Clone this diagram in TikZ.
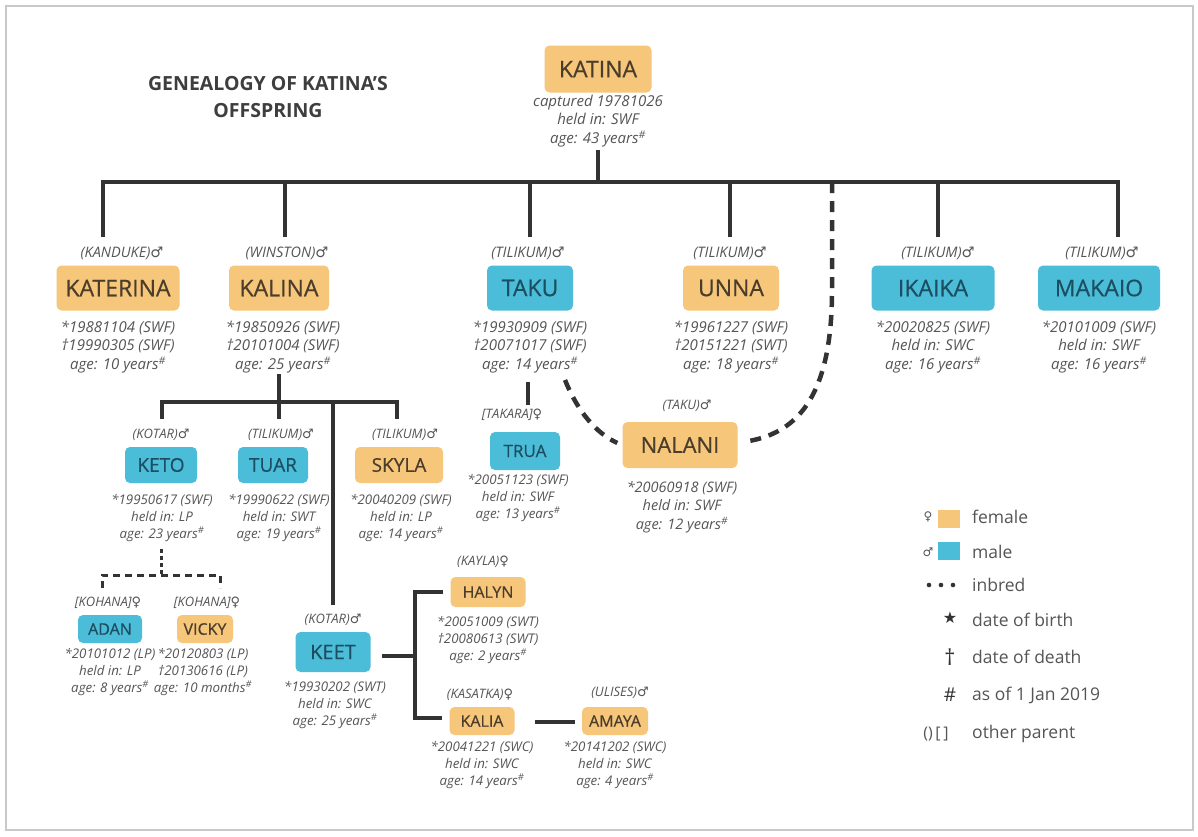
\documentclass[tikz,border=0pt]{standalone}
\usepackage{fontspec}
\setmainfont{Open Sans}
\newfontfamily\namefont[FakeBold=0.5]{Open Sans}
\newfontfamily\symfont{DejaVu Sans}
\usetikzlibrary{calc}

\definecolor{femfill}{HTML}{F6C67A}
\definecolor{malfill}{HTML}{4CBDD8}
\definecolor{femtext}{HTML}{4A3D2B}
\definecolor{maltext}{HTML}{1C4E61}
\definecolor{infotext}{HTML}{555555}
\definecolor{linecol}{HTML}{333333}
\definecolor{titletext}{HTML}{3E3E3E}
\definecolor{cardline}{HTML}{C9C9C9}

\newcommand\msym{{\symfont ♂}}
\newcommand\fsym{{\symfont ♀}}
\newcommand\hs{\textsuperscript{\#}}

\begin{document}
\begin{tikzpicture}[x=1pt,y=-1pt,
  box/.style={rounded corners=5pt, inner sep=0pt, minimum height=45pt},
  fem/.style={box, fill=femfill, text=femtext},
  mal/.style={box, fill=malfill, text=maltext},
  bigname/.style={font=\namefont\fontsize{23}{26}\selectfont},
  midname/.style={font=\namefont\fontsize{19}{22}\selectfont},
  smallname/.style={font=\namefont\fontsize{16}{18}\selectfont},
  info/.style={align=center, inner sep=0pt, text=infotext, font=\itshape\fontsize{15}{18.5}\selectfont},
  sinfo/.style={align=center, inner sep=0pt, text=infotext, font=\itshape\fontsize{13.3}{16.8}\selectfont},
  par/.style={inner sep=0pt, text=infotext, font=\itshape\fontsize{14.5}{16}\selectfont},
  spar/.style={inner sep=0pt, text=infotext, font=\itshape\fontsize{13}{14}\selectfont},
  link/.style={draw=linecol, line width=4pt, line join=miter},
  inbred/.style={draw=linecol, line width=4.5pt, dash pattern=on 11pt off 8pt},
  kin/.style={draw=linecol, line width=3pt, dash pattern=on 7pt off 5pt},
  legend/.style={inner sep=0pt, anchor=west, text=infotext, font=\fontsize{17.5}{20}\selectfont}
]
\useasboundingbox (0,0) rectangle (1198,836);
\fill[white] (0,0) rectangle (1198,836);
\draw[cardline, line width=1.5pt] (6,6) rectangle (1193,830);

% title
\node[align=center, inner sep=0pt, text=titletext,
      font=\bfseries\fontsize{19.5}{27}\selectfont] (title) at (268,97)
  {GENEALOGY OF KATINA'S\\OFFSPRING};

% founder
\node[fem, bigname, minimum width=107pt, minimum height=47pt] (katina) at (598,69) {KATINA};
\node[info] (katina-i) at (598,121) {captured 19781026\\held in: SWF\\age: 43 years\hs};

% first generation
\node[par] (katerina-p) at (122,253) {(KANDUKE)\msym};
\node[fem, bigname, minimum width=123pt] (katerina) at (118,288) {KATERINA};
\node[info] (katerina-i) at (118,347) {*19881104 (SWF)\\†19990305 (SWF)\\age: 10 years\hs};

\node[par] (kalina-p) at (287,253) {(WINSTON)\msym};
\node[fem, bigname, minimum width=100pt] (kalina) at (279,288) {KALINA};
\node[info] (kalina-i) at (283,347) {*19850926 (SWF)\\†20101004 (SWF)\\age: 25 years\hs};

\node[par] (taku-p) at (528,253) {(TILIKUM)\msym};
\node[mal, bigname, minimum width=86pt] (taku) at (530,288) {TAKU};
\node[info] (taku-i) at (530,347) {*19930909 (SWF)\\†20071017 (SWF)\\age: 14 years\hs};

\node[par] (unna-p) at (730,253) {(TILIKUM)\msym};
\node[fem, bigname, minimum width=96pt] (unna) at (731,288) {UNNA};
\node[info] (unna-i) at (731,347) {*19961227 (SWF)\\†20151221 (SWT)\\age: 18 years\hs};

\node[par] (ikaika-p) at (938,253) {(TILIKUM)\msym};
\node[mal, bigname, minimum width=123pt] (ikaika) at (933,288) {IKAIKA};
\node[info] (ikaika-i) at (933,347) {*20020825 (SWF)\\held in: SWC\\age: 16 years\hs};

\node[par] (makaio-p) at (1102,253) {(TILIKUM)\msym};
\node[mal, bigname, minimum width=122pt] (makaio) at (1099,288) {MAKAIO};
\node[info] (makaio-i) at (1099,347) {*20101009 (SWF)\\held in: SWF\\age: 16 years\hs};

% Kalina's offspring
\node[spar] (keto-p) at (161,435) {(KOTAR)\msym};
\node[mal, midname, minimum width=72pt, minimum height=36pt] (keto) at (161,465) {KETO};
\node[sinfo] (keto-i) at (162,518) {*19950617 (SWF)\\held in: LP\\age: 23 years\hs};

\node[spar] (tuar-p) at (281,435) {(TILIKUM)\msym};
\node[mal, midname, minimum width=70pt, minimum height=36pt] (tuar) at (273,465) {TUAR};
\node[sinfo] (tuar-i) at (279,518) {*19990622 (SWF)\\held in: SWT\\age: 19 years\hs};

\node[spar] (skyla-p) at (405,435) {(TILIKUM)\msym};
\node[fem, midname, minimum width=88pt, minimum height=36pt] (skyla) at (399,465) {SKYLA};
\node[sinfo] (skyla-i) at (401,518) {*20040209 (SWF)\\held in: LP\\age: 14 years\hs};

\node[spar] (keet-p) at (333,620) {(KOTAR)\msym};
\node[mal, font=\namefont\fontsize{20}{22}\selectfont, minimum width=75pt, minimum height=40pt] (keet) at (333,652) {KEET};
\node[sinfo] (keet-i) at (335,705) {*19930202 (SWT)\\held in: SWC\\age: 25 years\hs};

% Taku's offspring
\node[spar] (trua-p) at (512,415) {[TAKARA]\fsym};
\node[mal, font=\namefont\fontsize{17}{20}\selectfont, minimum width=70pt, minimum height=38pt] (trua) at (525,451) {TRUA};
\node[sinfo] (trua-i) at (518,498) {*20051123 (SWF)\\held in: SWF\\age: 13 years\hs};

\node[spar] (nalani-p) at (687,406) {(TAKU)\msym};
\node[fem, font=\namefont\fontsize{22}{25}\selectfont, minimum width=115pt, minimum height=46pt] (nalani) at (680,445) {NALANI};
\node[info, font=\itshape\fontsize{14.5}{18.5}\selectfont] (nalani-i) at (682,507) {*20060918 (SWF)\\held in: SWF\\age: 12 years\hs};

% Keto's offspring
\node[spar] (adan-p) at (108,603) {[KOHANA]\fsym};
\node[mal, smallname, minimum width=64pt, minimum height=28pt] (adan) at (110,629) {ADAN};
\node[sinfo] (adan-i) at (110,672) {*20101012 (LP)\\held in: LP\\age: 8 years\hs};

\node[spar] (vicky-p) at (207,603) {[KOHANA]\fsym};
\node[fem, smallname, minimum width=56pt, minimum height=28pt] (vicky) at (205,629) {VICKY};
\node[sinfo] (vicky-i) at (203,672) {*20120803 (LP)\\†20130616 (LP)\\age: 10 months\hs};

% Keet's offspring
\node[spar] (halyn-p) at (483,562) {(KAYLA)\fsym};
\node[fem, smallname, minimum width=75pt, minimum height=30pt] (halyn) at (488,592) {HALYN};
\node[sinfo] (halyn-i) at (488,640) {*20051009 (SWT)\\†20080613 (SWT)\\age: 2 years\hs};

\node[spar] (kalia-p) at (480,695) {(KASATKA)\fsym};
\node[fem, smallname, minimum width=65pt, minimum height=28pt] (kalia) at (482,721) {KALIA};
\node[sinfo] (kalia-i) at (482,765) {*20041221 (SWC)\\held in: SWC\\age: 14 years\hs};

\node[spar] (amaya-p) at (620,693) {(ULISES)\msym};
\node[fem, smallname, minimum width=66pt, minimum height=28pt] (amaya) at (615,721) {AMAYA};
\node[sinfo] (amaya-i) at (615,765) {*20141202 (SWC)\\held in: SWC\\age: 4 years\hs};

% ---- connectors ----
\coordinate (root-a) at (598,150);
\coordinate (root-b) at (598,182);
\draw[link] (root-a) -- (root-b);
\coordinate (g1-l) at (103,182); \coordinate (g1-r) at (1118,182);
\draw[link] ($(g1-l)+(0,55)$) -- (g1-l) -- (g1-r) -- ($(g1-r)+(0,55)$);
\foreach \n/\x in {kalina/285, taku/530, unna/730, ikaika/938}{
  \coordinate (\n-top) at (\x,182);
  \coordinate (\n-end) at (\x,237);
  \draw[link] (\n-top) -- (\n-end);
}

% Kalina's branch
\coordinate (k2-l) at (162,402); \coordinate (k2-r) at (397,402);
\draw[link] ($(k2-l)+(0,17)$) -- (k2-l) -- (k2-r) -- ($(k2-r)+(0,17)$);
\coordinate (kalina-dn) at (279,374); \coordinate (tuar-up) at (279,419);
\draw[link] (kalina-dn) -- (tuar-up);
\coordinate (keet-br) at (333,402); \coordinate (keet-up) at (333,605);
\draw[link] (keet-br) -- (keet-up);

% Taku to Trua
\coordinate (taku-dn) at (528,382); \coordinate (trua-up) at (528,405);
\draw[link] (taku-dn) -- (trua-up);

% inbreeding line to Nalani
\coordinate (inb-top) at (832,182);
\coordinate (inb-s) at (565,380);
\draw[inbred] (inb-top) -- (832,290) .. controls (832,400) and (795,435) .. ($(nalani.east)+(5,-3)$);
\draw[inbred] (inb-s) .. controls (578,412) and (596,433) .. ($(nalani.west)+(-5,-2)$);

% Keto's branch
\coordinate (keto-dn) at (161,549); \coordinate (keto-j) at (161,575);
\draw[kin, dash pattern=on 4pt off 3pt] (keto-dn) -- (keto-j);
\coordinate (kk-l) at (102,575); \coordinate (kk-r) at (220,575);
\draw[kin] ($(kk-l)+(0,13)$) -- (kk-l) -- (kk-r) -- ($(kk-r)+(0,13)$);

% Keet's branch
\coordinate (keet-r) at (382,656); \coordinate (kb) at (415,656);
\draw[link] (keet-r) -- (kb);
\coordinate (kb-t) at (415,592); \coordinate (kb-b) at (415,718);
\draw[link] ($(halyn.west)+(-7,0)$) -- (kb-t) -- (kb-b) -- ($(kalia.west)+(-7,-3)$);
\coordinate (ka-r) at (535,722); \coordinate (am-l) at (575,722);
\draw[link] (ka-r) -- (am-l);

% ---- legend ----
\node[inner sep=0pt, text=infotext, font=\fontsize{12}{14}\selectfont] (lg-f) at (928,517) {\fsym};
\fill[femfill] (938,510) rectangle (960,528);
\node[legend] (lgt-f) at (972,517) {female};
\node[inner sep=0pt, text=infotext, font=\fontsize{12}{14}\selectfont] (lg-m) at (928,552) {\msym};
\fill[malfill] (938,542) rectangle (960,560);
\node[legend] (lgt-m) at (972,552) {male};
\foreach \x in {929,941,953}{\fill[linecol] (\x,585) circle (2.3pt);}
\node[legend] (lgt-i) at (972,585) {inbred};
\node[inner sep=0pt, text=linecol, font=\symfont\fontsize{16}{18}\selectfont] (lg-b) at (950,618) {★};
\node[legend] (lgt-b) at (972,620) {date of birth};
\node[inner sep=0pt, text=linecol, font=\fontsize{22}{24}\selectfont] (lg-d) at (950,657) {†};
\node[legend] (lgt-d) at (972,657) {date of death};
\node[inner sep=0pt, text=linecol, font=\fontsize{19}{22}\selectfont] (lg-h) at (950,695) {\#};
\node[legend] (lgt-h) at (972,695) {as of 1 Jan 2019};
\node[inner sep=0pt, text=infotext, font=\fontsize{16}{18}\selectfont] (lg-o) at (936,734) {()\,[\,]};
\node[legend] (lgt-o) at (972,734) {other parent};
\end{tikzpicture}
\end{document}
